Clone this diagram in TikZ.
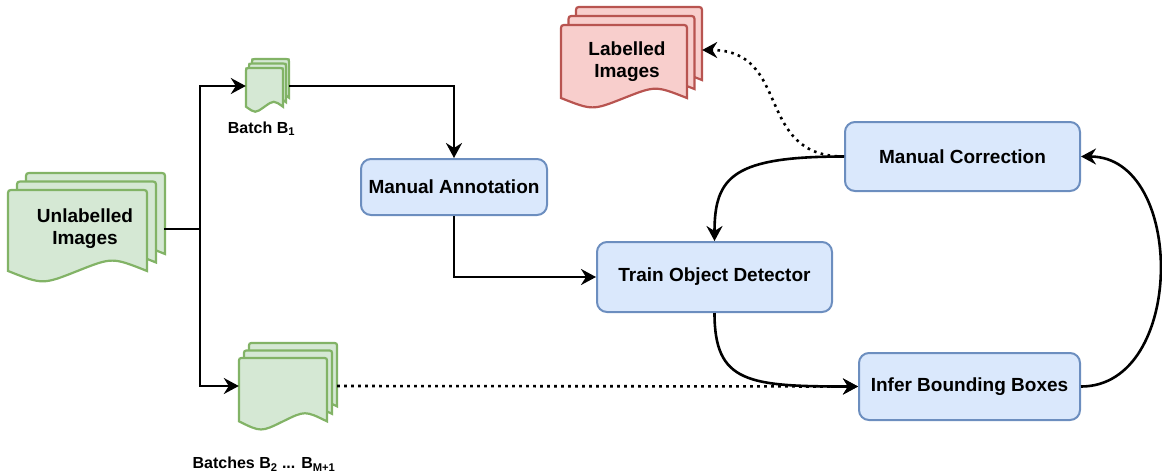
\documentclass[tikz,border=0pt]{standalone}
\usepackage{fontspec}
\setmainfont{Liberation Sans}
\usetikzlibrary{positioning,calc,arrows.meta}
\definecolor{sheetgreenfill}{HTML}{D5E8D4}
\definecolor{sheetgreenline}{HTML}{82B366}
\definecolor{sheetredfill}{HTML}{F8CECC}
\definecolor{sheetredline}{HTML}{B85450}
\definecolor{stagefill}{HTML}{DAE8FC}
\definecolor{stageline}{HTML}{6C8EBF}
% one sheet: left, top, width, height, corner, style
\newcommand{\docsheet}[6]{%
  \draw[#6] ({#1},{#2+0.88*#4}) -- ({#1},{#2+#5}) .. controls ({#1},{#2}) .. ({#1+#5},{#2})
    -- ({#1+#3-#5},{#2}) .. controls ({#1+#3},{#2}) .. ({#1+#3},{#2+#5})
    -- ({#1+#3},{#2+0.88*#4}) .. controls ({#1+0.75*#3},{#2+0.73*#4}) .. ({#1+0.5*#3},{#2+0.88*#4})
    .. controls ({#1+0.25*#3},{#2+1.03*#4}) .. ({#1},{#2+0.88*#4}) -- cycle;
}
% stack of three sheets: left, top, width, height, corner, x offset, y offset, style
\newcommand{\docstack}[8]{%
  \foreach \k in {2,1,0}{\docsheet{#1+\k*#6}{#2-\k*#7}{#3}{#4}{#5}{#8}}
}
\tikzset{
    big text/.style={font=\bfseries\fontsize{19}{22}\selectfont},
    small text/.style={font=\bfseries\fontsize{16}{19}\selectfont},
    stage/.style={
        rectangle,
        rounded corners=10pt,
        draw=stageline,
        fill=stagefill,
        line width=2pt,
        inner sep=0pt,
        big text,
    },
    green sheet/.style={draw=sheetgreenline, fill=sheetgreenfill, line width=2.2pt},
    red sheet/.style={draw=sheetredline, fill=sheetredfill, line width=2.2pt},
    stack/.style={rectangle, inner sep=0pt, align=center, big text},
    flow/.style={line width=2.6pt},
    tip/.style={-{Stealth[length=15pt,width=16pt,inset=5pt]}},
    dotted flow/.style={line width=2.6pt, dash pattern=on 2.6pt off 4.4pt},
}

\begin{document}
\begin{tikzpicture}[x=1pt,y=-1pt]
\useasboundingbox (0,0) rectangle (1162,475);

%Sheets behind the stack nodes
\docstack{8}{190}{139}{92}{6}{9}{8.5}{green sheet}
\docstack{246}{68}{37}{44}{3}{3}{4.5}{green sheet}
\docstack{239}{358}{88}{72}{5}{5}{7.5}{green sheet}
\docstack{561}{25}{126}{83}{6}{7.5}{9}{red sheet}

\node[stack, minimum width=158pt, minimum height=90pt] (unlabelled) at (85,229) {Unlabelled\\Images};
\node[stack, minimum width=43pt, minimum height=50pt] (batch-first) at (267.5,86) {};
\node[stack, minimum width=98pt, minimum height=85pt] (batch-rest) at (288,386) {};
\node[stack, minimum width=150pt, minimum height=80pt] (labelled) at (627,62) {Labelled\\Images};

\node[small text, below=7pt of batch-first, xshift=-6pt] (batch-first-label) {Batch B\textsubscript{1}};
\node[small text, below=25pt of batch-rest, xshift=-24pt] (batch-rest-label) {Batches B\textsubscript{2} ... B\textsubscript{M+1}};

\node[stage, minimum width=186pt, minimum height=56pt] (annotation) at (454,187) {Manual Annotation};
\node[stage, minimum width=235pt, minimum height=70pt] (train) at (714.5,277) {Train Object Detector};
\node[stage, minimum width=235pt, minimum height=69pt] (correction) at (962.5,156.5) {Manual Correction};
\node[stage, minimum width=221pt, minimum height=67pt] (infer) at (969.5,386.5) {Infer Bounding Boxes};

\coordinate (split) at (200,229);

\draw[flow] (unlabelled.east) -- (split);
\draw[flow,tip] (split) |- (batch-first.west);
\draw[flow,tip] (split) |- (batch-rest.west);

\draw[flow,tip] (batch-first.east) -| (annotation.north);
\draw[flow,tip] (annotation.south) |- (train.west);

\draw[flow,tip] (train.south) .. controls +(0,70) and +(-110,0) .. (infer.west);
\draw[dotted flow,tip] (batch-rest.east) -- (infer.west);
\draw[flow,tip] (infer.east) .. controls +(105,0) and +(105,0) .. (correction.east);
\draw[flow,tip] (correction.west) .. controls +(-110,0) and +(0,-65) .. (train.north);
\draw[dotted flow,tip] (correction.west) .. controls +(-90,0) and +(90,0) .. ([yshift=12pt]labelled.east);

\end{tikzpicture}
\end{document}
